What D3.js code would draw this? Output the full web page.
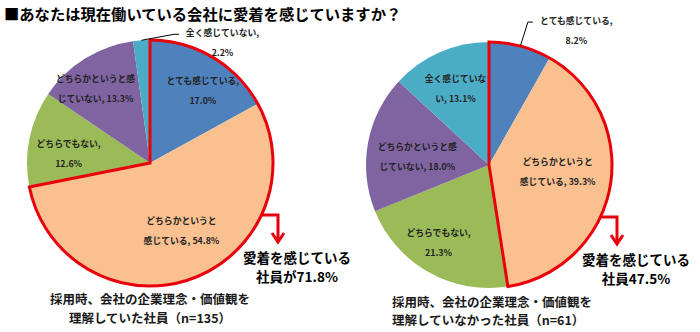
<!DOCTYPE html>
<html><head><meta charset="utf-8">
<script src="https://cdn.jsdelivr.net/npm/d3@7"></script>
<style>body{margin:0;background:#fff}svg{display:block}</style>
</head><body><svg id="c" width="700" height="332"></svg>
<script>
// ---- data ----
const title = "■あなたは現在働いている会社に愛着を感じていますか？";
const categories = ["とても感じている", "どちらかというと感じている", "どちらでもない", "どちらかというと感じていない", "全く感じていない"];
const valuesUnderstood = [17.0, 54.8, 12.6, 13.3, 2.2];
const valuesNotUnderstood = [8.2, 39.3, 21.3, 18.0, 13.1];
const captionUnderstood = ["採用時、会社の企業理念・価値観を", "理解していた社員（n=135）"];
const captionNotUnderstood = ["採用時、会社の企業理念・価値観を", "理解していなかった社員（n=61）"];
const calloutHead = "愛着を感じている";
const calloutUnderstoodPrefix = "社員が";
const calloutNotUnderstoodPrefix = "社員";
// label line-break positions (characters before the wrap)
const breaksUnderstood = [9, 8, 8, 9, 9];
const breaksNotUnderstood = [9, 8, 8, 9, 7];

// ---- style / layout ----
const colors = ["#4f81bd", "#fac090", "#9bbb59", "#8064a2", "#4bacc6"];
const RED = "#e8000b";
const FONT = "'Noto Sans CJK JP','Noto Sans',sans-serif";
const R = 123;

const svg = d3.select("#c");
svg.append("text").attr("x", 4).attr("y", 13).attr("dominant-baseline", "central")
  .attr("font-family", FONT).attr("font-weight", 700).attr("font-size", 15.3)
  .attr("fill", "#000").text(title);

const pies = [
  { values: valuesUnderstood, breaks: breaksUnderstood, cx: 150, cy: 163,
    caption: captionUnderstood, captionAnchor: "middle", captionX: 0, captionY: [135, 154],
    prefix: calloutUnderstoodPrefix,
    labelR: [0.7, 0.7, 0.7, 0.7, 1.0],
    nudge: [[9, 2], [2, -13], [3, 8], [-9, -1], [81, 2]] },
  { values: valuesNotUnderstood, breaks: breaksNotUnderstood, cx: 489, cy: 165,
    caption: captionNotUnderstood, captionAnchor: "start", captionX: -97, captionY: [136, 154],
    prefix: calloutNotUnderstoodPrefix,
    labelR: [1.0, 0.7, 0.7, 0.7, 0.7],
    nudge: [[56, -16], [-16, -9], [-8, 3], [13, 7], [1, 2]] }
];

const pie = d3.pie().sort(null).value(d => d);
const arc = d3.arc().innerRadius(0).outerRadius(R);

pies.forEach(p => {
  const g = svg.append("g").attr("transform", `translate(${p.cx},${p.cy})`);
  const arcs = pie(p.values);
  g.selectAll("path.slice").data(arcs).join("path").attr("class", "slice")
    .attr("d", arc).attr("fill", (d, i) => colors[i]);

  // red outline around the "feel attached" group (first two slices)
  const endA = arcs[1].endAngle;
  g.append("path")
    .attr("d", d3.arc().innerRadius(0).outerRadius(R)({ startAngle: 0, endAngle: endA }))
    .attr("fill", "none").attr("stroke", RED).attr("stroke-width", 3).attr("stroke-linejoin", "miter");

  // labels
  arcs.forEach((d, i) => {
    const mid = (d.startAngle + d.endAngle) / 2;
    const rr = R * p.labelR[i];
    const ax = rr * Math.sin(mid), ay = -rr * Math.cos(mid);
    const lx = ax + p.nudge[i][0], ly = ay + p.nudge[i][1];
    const full = `${categories[i]}, ${p.values[i].toFixed(1)}%`;
    const l1 = full.slice(0, p.breaks[i]).trim();
    const l2 = full.slice(p.breaks[i]).trim();
    const t = g.append("text").attr("font-family", FONT).attr("font-size", 8.8)
      .attr("font-weight", 700).attr("fill", "#222").attr("text-anchor", "middle");
    t.append("tspan").attr("x", lx).attr("y", ly - 10).attr("dominant-baseline", "central").text(l1);
    t.append("tspan").attr("x", lx).attr("y", ly + 10).attr("dominant-baseline", "central").text(l2);
    if (p.labelR[i] >= 1) {
      const w = l1.length * 9;
      const ex = lx - w / 2 - 3, ey = ly - 8;
      g.append("path")
        .attr("d", d3.line()([[ax, ay], [ex - 5, ey], [ex, ey]]))
        .attr("fill", "none").attr("stroke", "#000").attr("stroke-width", 1);
    }
  });

  // callout arrow
  const aA = 115 * Math.PI / 180;
  const sx = R * Math.sin(aA), sy = -R * Math.cos(aA);
  const bx = R + 5, by = 80;
  g.append("path").attr("d", d3.line()([[sx, sy], [bx, sy], [bx, by - 2]]))
    .attr("fill", "none").attr("stroke", RED).attr("stroke-width", 3);
  g.append("path").attr("d", d3.line()([[bx - 6, by - 10], [bx, by - 1], [bx + 6, by - 10]]))
    .attr("fill", "none").attr("stroke", RED).attr("stroke-width", 3).attr("stroke-linejoin", "miter");

  const total = d3.sum(p.values.slice(0, 2)).toFixed(1);
  const ct = g.append("text").attr("font-family", FONT).attr("font-weight", 700)
    .attr("font-size", 13.5).attr("fill", "#000").attr("text-anchor", "middle");
  ct.append("tspan").attr("x", R + 24).attr("y", 94).attr("dominant-baseline", "central").text(calloutHead);
  ct.append("tspan").attr("x", R + 24).attr("y", 113).attr("dominant-baseline", "central").text(`${p.prefix}${total}%`);

  const cap = g.append("text").attr("font-family", FONT).attr("font-weight", 700)
    .attr("font-size", 12.5).attr("fill", "#1a1a1a").attr("text-anchor", p.captionAnchor);
  p.caption.forEach((c, i) => cap.append("tspan").attr("x", p.captionX).attr("y", p.captionY[i])
    .attr("dominant-baseline", "central").text(c));
});
</script></body></html>
